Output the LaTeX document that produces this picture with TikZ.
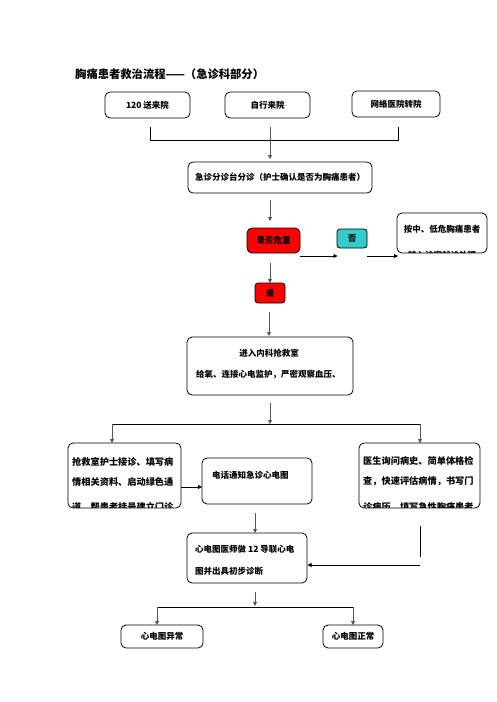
\documentclass[tikz,border=0pt]{standalone}
\usepackage{fontspec}
\setmainfont{Noto Sans CJK SC}
\usetikzlibrary{arrows.meta}
\definecolor{teal1}{HTML}{33CCCC}
\definecolor{arrgray}{HTML}{555555}
\tikzset{
  box/.style={draw=black, line width=0.8pt, rounded corners=5pt, inner sep=0pt, fill=white},
  txt/.style={inner sep=0pt, font=\fontsize{8.5}{10}\selectfont\bfseries},
  ttxt/.style={inner sep=0pt, font=\fontsize{9.2}{10}\selectfont\bfseries},
  varr/.style={draw=arrgray, line width=0.9pt, -{Triangle[length=4pt,width=4pt]}},
  harr/.style={draw=black, line width=0.9pt, -{Triangle[length=4pt,width=4pt]}},
  ln/.style={draw=black, line width=0.9pt},
}
\begin{document}
\begin{tikzpicture}[x=1pt,y=-1pt]
\useasboundingbox (0,0) rectangle (496,702);
% title
\node[inner sep=0pt, anchor=west, font=\fontsize{11.3}{13}\selectfont\bfseries] (title) at (75,74) {胸痛患者救治流程——（急诊科部分）};
% top boxes
\node[box, minimum width=85pt, minimum height=26pt, txt] (b1) at (147.5,105) {120 送来院};
\node[box, minimum width=85pt, minimum height=26pt, txt] (b2) at (267.5,105) {自行来院};
\node[box, minimum width=88pt, minimum height=26pt, txt] (b3) at (396,104) {网络医院转院};
\coordinate (s1) at (150,127); \coordinate (j1) at (150,140);
\coordinate (s3) at (398,127); \coordinate (j3) at (398,140);
\coordinate (s2) at (270,127); \coordinate (e2) at (270,159);
\draw[ln] (s1) -- (j1) -- (j3) -- (s3);
\draw[varr] (s2) -- (e2);
% triage
\node[box, minimum width=184pt, minimum height=31pt, txt] (tri) at (280,177.5) {急诊分诊台分诊（护士确认是否为胸痛患者）};
\coordinate (a1) at (270,200); \coordinate (a1e) at (270,221);
\draw[varr] (a1) -- (a1e);
% critical?
\node[box, fill=red, minimum width=53pt, minimum height=25pt, txt] (crit) at (273.5,240.5) {\raisebox{-1.5pt}{是否危重}};
\node[box, fill=teal1, rounded corners=3pt, minimum width=30pt, minimum height=19pt, txt] (no) at (352,238.5) {\raisebox{-1.5pt}{否}};
\node[box, minimum width=90pt, minimum height=40pt] (low) at (442,233) {};
\begin{scope}
\clip[rounded corners=5pt] (397.5,213.5) rectangle (486.5,252.5);
\node[txt, anchor=center] (lowt1) at (442,229) {按中、低危胸痛患者};
\node[txt, anchor=center] (lowt2) at (442,255.5) {转入诊室就诊处理};
\end{scope}
\coordinate (h1) at (300,256); \coordinate (h1e) at (337.5,256);
\coordinate (h2) at (367,256); \coordinate (h2e) at (398,256);
\draw[harr] (h1) -- (h1e);
\draw[harr] (h2) -- (h2e);
\coordinate (a2) at (270,263); \coordinate (a2e) at (270,283);
\draw[varr] (a2) -- (a2e);
\node[box, fill=red, rounded corners=3pt, minimum width=30pt, minimum height=20pt, txt] (yes) at (270,293) {\raisebox{-1.5pt}{是}};
\coordinate (a3) at (269,312); \coordinate (a3e) at (269,336);
\draw[varr] (a3) -- (a3e);
% ER box
\node[box, minimum width=166pt, minimum height=58pt] (er) at (270,366) {};
\node[txt] (ert1) at (269,353) {进入内科抢救室};
\node[txt, anchor=west] (ert2) at (196,374) {给氧、连接心电监护，严密观察血压、};
% split
\coordinate (a4) at (270,403); \coordinate (a4e) at (270,424);
\draw[varr] (a4) -- (a4e);
\coordinate (jl) at (112,424); \coordinate (jr) at (420,424);
\coordinate (jle) at (112,443); \coordinate (jre) at (420,443);
\draw[ln] (jl) -- (jr);
\draw[varr] (jl) -- (jle);
\draw[varr] (jr) -- (jre);
% left box
\node[box, minimum width=113pt, minimum height=65pt] (nurse) at (124.5,475.5) {};
\begin{scope}
\clip[rounded corners=5pt] (68.5,443.5) rectangle (180.5,507.5);
\node[ttxt, anchor=west] (nt1) at (72,462) {抢救室护士接诊、填写病};
\node[ttxt, anchor=west] (nt2) at (72,482) {情相关资料、启动绿色通};
\node[ttxt, anchor=west] (nt3) at (72,507) {道，帮患者挂号建立门诊};
\end{scope}
% phone box
\node[box, minimum width=110pt, minimum height=46pt] (phone) at (257,481) {};
\node[txt, anchor=west] (pt) at (212,475) {电话通知急诊心电图};
\coordinate (h3) at (181,487); \coordinate (h3e) at (202,487);
\draw[harr] (h3) -- (h3e);
% right box
\node[box, minimum width=121pt, minimum height=65pt] (doc) at (419.5,475.5) {};
\begin{scope}
\clip[rounded corners=5pt] (359.5,443.5) rectangle (479.5,507.5);
\node[ttxt, anchor=west] (dt1) at (363,461) {医生询问病史、简单体格检};
\node[ttxt, anchor=west] (dt2) at (363,481) {查，快速评估病情，书写门};
\node[ttxt, anchor=west] (dt3) at (363,507) {诊病历，填写急性胸痛患者};
\end{scope}
% ECG box
\coordinate (a5) at (255,513); \coordinate (a5e) at (255,533);
\draw[varr] (a5) -- (a5e);
\node[box, minimum width=120pt, minimum height=50pt] (ecg) at (247,558) {};
\node[txt, anchor=west] (et1) at (195,549) {心电图医师做 12 导联心电};
\node[txt, anchor=west] (et2) at (195,571) {图并出具初步诊断};
\coordinate (r1) at (420,526); \coordinate (r1e) at (420,557);
\draw[ln] (r1) -- (r1e);
\coordinate (h4) at (420,565); \coordinate (h4e) at (307.5,565);
\draw[harr] (h4) -- (h4e);
% bottom split
\coordinate (a6) at (255,592); \coordinate (a6e) at (255,606);
\draw[varr] (a6) -- (a6e);
\coordinate (bl) at (157,607); \coordinate (br) at (353,607);
\coordinate (ble) at (157,625); \coordinate (bre) at (353,625);
\draw[ln] (bl) -- (br);
\draw[varr] (bl) -- (ble);
\draw[varr] (br) -- (bre);
\node[box, minimum width=82pt, minimum height=23pt, txt] (abn) at (162,636.5) {心电图异常};
\node[box, minimum width=60pt, minimum height=23pt, txt] (norm) at (353,636.5) {心电图正常};
\end{tikzpicture}
\end{document}
